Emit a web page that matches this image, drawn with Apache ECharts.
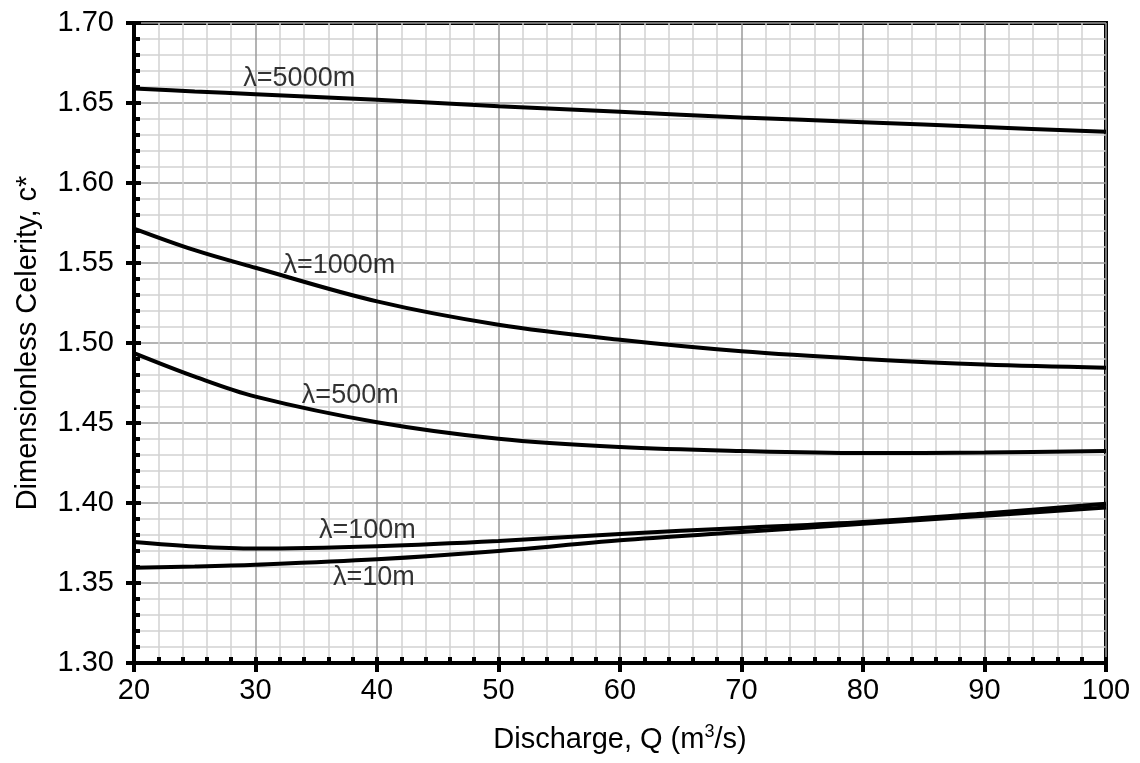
<!DOCTYPE html>
<html>
<head>
<meta charset="utf-8">
<script src="https://cdn.jsdelivr.net/npm/echarts@6/dist/echarts.min.js"></script>
<style>
    html, body { margin: 0; padding: 0; background: #fff; }
    #chart { width: 1140px; height: 763px; }
</style>
</head>
<body>
<div id="chart"></div>
<script>
// discharge values (m3/s)
var discharge = [20, 25, 30, 40, 50, 60, 70, 80, 90, 100];

// dimensionless celerity per wavelength
var c5000 = [1.659, 1.6572, 1.6555, 1.652, 1.648, 1.6445, 1.641, 1.638, 1.635, 1.632];
var c1000 = [1.5715, 1.558, 1.547, 1.526, 1.5114, 1.502, 1.4948, 1.490, 1.4865, 1.4846];
var c500 = [1.4937, 1.479, 1.4665, 1.4505, 1.4402, 1.435, 1.4325, 1.4312, 1.4315, 1.4325];
var c100 = [1.3756, 1.3728, 1.3715, 1.3730, 1.3762, 1.3807, 1.3844, 1.3881, 1.3935, 1.3995];
var c10 = [1.3596, 1.3603, 1.3614, 1.3648, 1.3700, 1.3767, 1.3818, 1.3870, 1.3921, 1.3972];

// curve labels
var labelText = ['λ=5000m', 'λ=1000m', 'λ=500m', 'λ=100m', 'λ=10m'];
var labelQ = [33.6, 36.9, 37.8, 39.2, 39.75];
var labelC = [1.6654, 1.5486, 1.4673, 1.3829, 1.3535];

var font = 'Liberation Sans, Arial, sans-serif';

function pairs (ys) {
    return discharge.map(function (x, i) { return [x, ys[i]] })
}

function curve (name, ys) {
    return {
        name: name,
        type: 'line',
        smooth: 0.35,
        showSymbol: false,
        symbol: 'none',
        xAxisIndex: 0,
        yAxisIndex: 0,
        lineStyle: { color: '#000', width: 4 },
        data: pairs(ys),
        z: 5
    }
}

var myChart = echarts.init(document.getElementById('chart'))

myChart.setOption({
    animation: false,
    textStyle: { fontFamily: font },
    grid: {
        left: 134,
        right: 34,
        top: 23,
        bottom: 100,
        show: true,
        borderColor: '#000',
        borderWidth: 4,
        backgroundColor: '#fff'
    },
    xAxis: [{
        type: 'value',
        min: 20,
        max: 100,
        interval: 10,
        position: 'bottom',
        name: 'Discharge, Q (m{sup|3}/s)',
        nameLocation: 'middle',
        nameGap: 60,
        nameTextStyle: {
            fontSize: 29,
            color: '#000',
            fontFamily: font,
            rich: {
                sup: { fontSize: 18, verticalAlign: 'top', padding: [0, 0, 16, 0], color: '#000' }
            }
        },
        axisLine: { onZero: false, lineStyle: { color: '#000', width: 4 } },
        axisTick: { show: true, inside: false, length: 9, lineStyle: { color: '#000', width: 4 } },
        axisLabel: { fontSize: 29, color: '#000', margin: 13 },
        splitLine: { show: true, lineStyle: { color: '#9a9a9a', width: 1.5 } },
        minorTick: { show: false, splitNumber: 5 },
        minorSplitLine: { show: true, lineStyle: { color: '#d2d2d2', width: 1.5 } }
    }, {
        type: 'value',
        min: 20,
        max: 100,
        interval: 10,
        position: 'bottom',
        axisLine: { show: false, onZero: false },
        axisTick: { show: true, inside: true, length: 6, lineStyle: { color: '#000', width: 4 } },
        axisLabel: { show: false },
        splitLine: { show: false },
        minorTick: { show: true, splitNumber: 5, length: 6, lineStyle: { color: '#000', width: 4 } }
    }],
    yAxis: [{
        type: 'value',
        min: 1.30,
        max: 1.70,
        interval: 0.05,
        position: 'left',
        name: 'Dimensionless Celerity, c*',
        nameLocation: 'middle',
        nameGap: 92,
        nameTextStyle: { fontSize: 29, color: '#000', fontFamily: font },
        axisLine: { onZero: false, lineStyle: { color: '#000', width: 4 } },
        axisTick: { show: true, inside: false, length: 8, lineStyle: { color: '#000', width: 4 } },
        axisLabel: {
            fontSize: 29,
            color: '#000',
            margin: 20,
            formatter: function (v) { return v.toFixed(2) }
        },
        splitLine: { show: true, lineStyle: { color: '#9a9a9a', width: 1.5 } },
        minorTick: { show: false, splitNumber: 5 },
        minorSplitLine: { show: true, lineStyle: { color: '#d2d2d2', width: 1.5 } }
    }, {
        type: 'value',
        min: 1.30,
        max: 1.70,
        interval: 0.05,
        position: 'left',
        axisLine: { show: false, onZero: false },
        axisTick: { show: true, inside: true, length: 7, lineStyle: { color: '#000', width: 4 } },
        axisLabel: { show: false },
        splitLine: { show: false },
        minorTick: { show: true, splitNumber: 5, length: 6, lineStyle: { color: '#000', width: 4 } }
    }],
    series: [
        curve('λ=5000m', c5000),
        curve('λ=1000m', c1000),
        curve('λ=500m', c500),
        curve('λ=100m', c100),
        curve('λ=10m', c10),
        {
            name: 'labels',
            type: 'scatter',
            symbolSize: 0,
            silent: true,
            z: 6,
            label: {
                show: true,
                position: 'inside',
                fontSize: 27,
                color: '#000',
                fontFamily: font,
                formatter: function (p) { return p.data[2] }
            },
            data: labelText.map(function (t, i) { return [labelQ[i], labelC[i], t] })
        }
    ]
})
</script>
</body>
</html>
